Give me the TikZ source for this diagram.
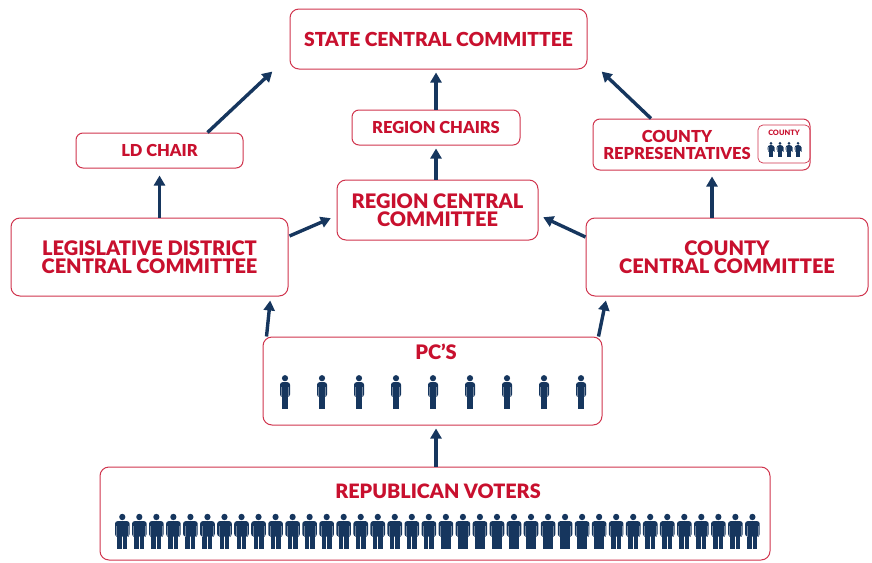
\documentclass[tikz,border=0pt]{standalone}
\usepackage{fontspec}
\setmainfont{Lato}[BoldFont={Lato Black}]
\usepackage{tikz}
\usetikzlibrary{arrows.meta}
\definecolor{partyred}{HTML}{C8102E}
\definecolor{partynavy}{HTML}{16365E}
\tikzset{
  org box/.style={draw=partyred!85,rounded corners=9pt,line width=1pt,text=partyred,font=\bfseries,align=center,inner sep=0pt},
  big text/.style={text=partyred,font=\fontsize{20}{18.5}\selectfont\bfseries,align=center},
  small text/.style={text=partyred,font=\fontsize{16.5}{16.5}\selectfont\bfseries,align=center},
  up arrow/.style={-{Triangle[length=10pt,width=11pt]},line width=3.4pt,draw=partynavy,shorten >=3pt},
  pics/person/.style={code={
      \fill[partynavy] (0,-30.3) circle (3.1);
      \fill[partynavy,rounded corners=2.5pt] (-#1,-11.5) rectangle (#1,-26.3);
      \fill[partynavy] ({-0.68*#1},0) rectangle (-0.35,-12.5);
      \fill[partynavy] (0.35,0) rectangle ({0.68*#1},-12.5);
      \fill[white!40!partynavy] ({-#1+1.4},-11.5) rectangle ({-#1+1.9},-22);
      \fill[white!40!partynavy] ({#1-1.9},-11.5) rectangle ({#1-1.4},-22);
  }},
  pics/person/.default=5
}
\begin{document}
\begin{tikzpicture}[x=1pt,y=-1pt]
  \useasboundingbox (0,0) rectangle (872,562);
  % boxes
  \node [org box,minimum width=297pt,minimum height=60pt,font=\fontsize{19.3}{20}\selectfont\bfseries] (state) at (438.5,39) {STATE CENTRAL COMMITTEE};
  \node [org box,minimum width=168pt,minimum height=35pt,rounded corners=7pt,font=\fontsize{16.5}{16.5}\selectfont\bfseries] (regchairs) at (436,127.5) {REGION CHAIRS};
  \node [org box,minimum width=167pt,minimum height=35pt,rounded corners=7pt,font=\fontsize{16.5}{16.5}\selectfont\bfseries] (ldchair) at (159.5,150.5) {LD CHAIR};
  \node [org box,minimum width=217pt,minimum height=51pt,rounded corners=7pt] (countyreps) at (701.5,144.5) {};
  \node [small text] (countyrepstext) at (677,145) {COUNTY\\REPRESENTATIVES};
  \node [org box,minimum width=52pt,minimum height=38pt,rounded corners=5pt,line width=0.7pt] (countyicon) at (784,144) {};
  \node [small text,font=\fontsize{7.4}{8}\selectfont\bfseries] (countyicontext) at (784,133) {COUNTY};
  \foreach \i in {0,...,3}
    \pic[scale=0.45] at ({771+9*\i},157) {person=7.5};
  \node [org box,minimum width=201pt,minimum height=60pt,font=\fontsize{20}{18.5}\selectfont\bfseries] (regcc) at (437.5,210) {REGION CENTRAL\\COMMITTEE};
  \node [org box,minimum width=277pt,minimum height=78pt,font=\fontsize{20}{18.5}\selectfont\bfseries] (ldcc) at (149.5,257) {LEGISLATIVE DISTRICT\\CENTRAL COMMITTEE};
  \node [org box,minimum width=282pt,minimum height=78pt,font=\fontsize{20}{18.5}\selectfont\bfseries] (countycc) at (727,257) {COUNTY\\CENTRAL COMMITTEE};
  \node [org box,minimum width=339pt,minimum height=88pt] (pcs) at (432.5,381) {};
  \node [big text] (pcstitle) at (436,352) {PC’S};
  \foreach \i in {0,...,8}
    \pic at ({285+37*\i},408.5) {person};
  \node [org box,minimum width=670pt,minimum height=93pt] (voters) at (435,513.5) {};
  \node [big text,font=\fontsize{19.8}{20}\selectfont\bfseries] (voterstitle) at (438,491) {REPUBLICAN VOTERS};
  \foreach \i in {0,...,37}
    \pic[yscale=1.04] at ({122.3+17.03*\i},548.5) {person=7.3};
  % arrows
  \draw [up arrow] ([shift={(48,0)}]ldchair.north) -- ([shift={(-15,0)}]state.south west);
  \draw [up arrow,shorten >=7pt] (ldchair.south |- ldcc.north) -- (ldchair.south);
  \draw [up arrow] (regchairs.north) -- (regchairs.north |- state.south);
  \draw [up arrow] (regcc.north -| regchairs.south) -- (regchairs.south);
  \draw [up arrow] ([shift={(-50.5,0)}]countyreps.north) -- ([shift={(12,0)}]state.south east);
  \draw [up arrow,shorten >=6pt] ([shift={(10.5,0)}]countyreps.south |- countycc.north) -- ([shift={(10.5,0)}]countyreps.south);
  \draw [up arrow] ([shift={(1,-21)}]ldcc.east) -- ([shift={(-3,7)}]regcc.west);
  \draw [up arrow] ([shift={(0,-20)}]countycc.west) -- ([shift={(2,6)}]regcc.east);
  \draw [up arrow] ([shift={(4,0)}]pcs.north west) -- ([shift={(-18,1)}]ldcc.south east);
  \draw [up arrow] ([shift={(-4,0)}]pcs.north east) -- ([shift={(21,1)}]countycc.south west);
  \draw [up arrow] (voters.north -| pcstitle) -- (pcs.south -| pcstitle);
\end{tikzpicture}
\end{document}
